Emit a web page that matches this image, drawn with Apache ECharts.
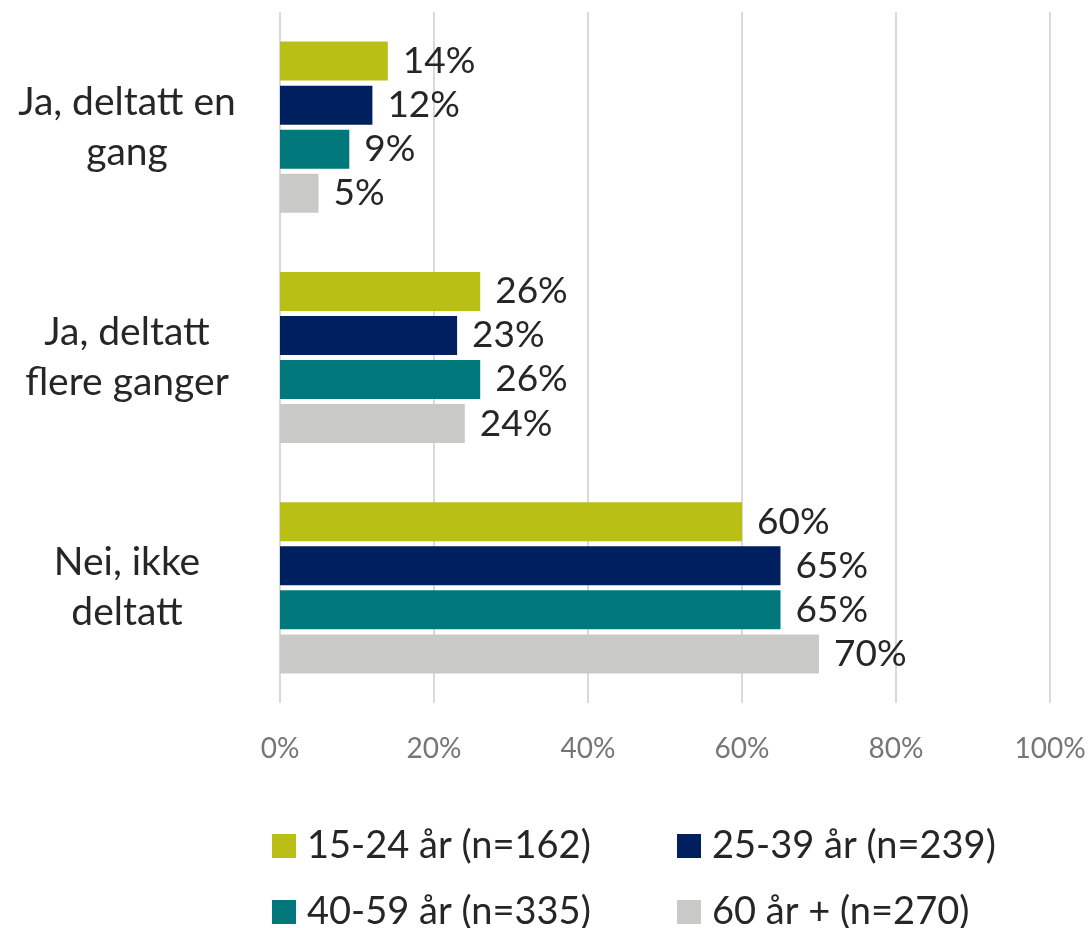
<!DOCTYPE html>
<html>
<head>
<meta charset="utf-8">
<style>
  html, body { margin: 0; padding: 0; background: #ffffff; }
  #chart { width: 1089px; height: 928px; }
</style>
<script src="https://cdn.jsdelivr.net/npm/echarts@6/dist/echarts.min.js"></script>
</head>
<body>
<div id="chart"></div>
<script>
const categories = ['Ja, deltatt en\ngang', 'Ja, deltatt\nflere ganger', 'Nei, ikke\ndeltatt'];
const seriesNames = ['15-24 år (n=162)', '25-39 år (n=239)', '40-59 år (n=335)', '60 år + (n=270)'];
const s1524 = [14, 26, 60];
const s2539 = [12, 23, 65];
const s4059 = [9, 26, 65];
const s60 = [5, 24, 70];
const tickValues = [0, 20, 40, 60, 80, 100];
const colors = ['#B9BF15', '#001F5F', '#00777B', '#C9C9C8'];

const FONT = 'Lato, "Open Sans", sans-serif';
const seriesData = [s1524, s2539, s4059, s60];

const chart = echarts.init(document.getElementById('chart'), null, { renderer: 'canvas' });

const series = seriesData.map((d, i) => ({
  name: seriesNames[i],
  type: 'bar',
  data: d,
  barWidth: 39,
  barGap: '13%',
  itemStyle: { color: colors[i] },
  label: {
    show: true,
    position: 'right',
    distance: 15,
    formatter: '{c}%',
    color: '#262626',
    fontFamily: FONT,
    fontSize: 37
  }
}));

const legendPos = [
  { left: 272, top: 827 },
  { left: 677, top: 827 },
  { left: 272, top: 893 },
  { left: 677, top: 893 }
];
const legends = seriesNames.map((n, i) => ({
  data: [n],
  left: legendPos[i].left,
  top: legendPos[i].top,
  orient: 'horizontal',
  itemWidth: 24,
  itemHeight: 24,
  icon: 'rect',
  selectedMode: false,
  padding: 0,
  textStyle: {
    color: '#262626',
    fontFamily: FONT,
    fontSize: 38,
    lineHeight: 24,
    padding: [0, 0, 0, 6]
  }
}));

chart.setOption({
  animation: false,
  backgroundColor: '#ffffff',
  grid: { left: 280, right: 39, top: 12, bottom: 225, containLabel: false },
  xAxis: {
    type: 'value',
    min: tickValues[0],
    max: tickValues[tickValues.length - 1],
    interval: 20,
    axisLine: { show: false },
    axisTick: { show: false },
    splitLine: { show: true, lineStyle: { color: '#D9D9D9', width: 2 } },
    axisLabel: {
      formatter: '{value}%',
      color: '#767676',
      fontFamily: FONT,
      fontSize: 28,
      margin: 32
    }
  },
  yAxis: {
    type: 'category',
    data: categories,
    inverse: true,
    axisLine: { show: false },
    axisTick: { show: false },
    splitLine: { show: false },
    axisLabel: {
      align: 'center',
      margin: 153,
      color: '#262626',
      fontFamily: FONT,
      fontSize: 39,
      lineHeight: 50
    }
  },
  legend: legends,
  series: series
});
</script>
</body>
</html>
